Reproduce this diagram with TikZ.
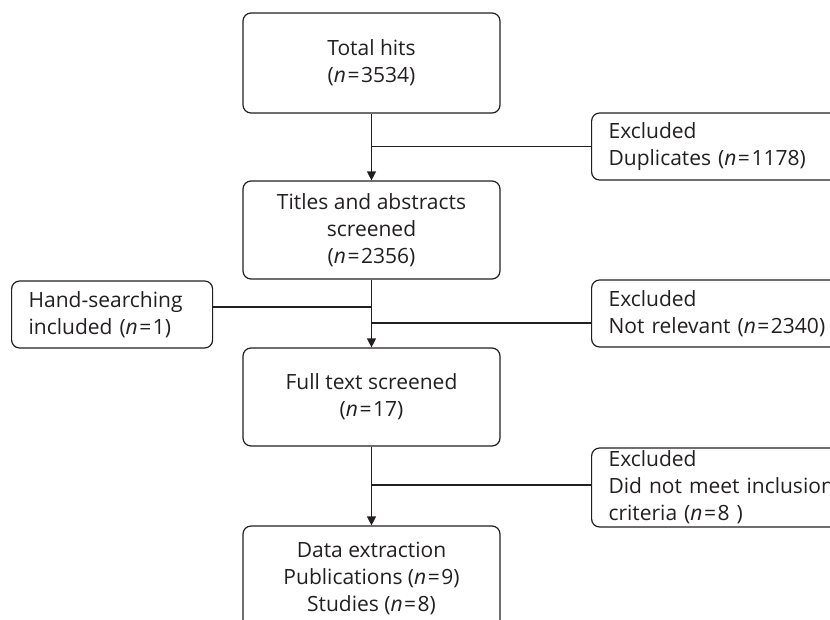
\documentclass[tikz,border=0pt]{standalone}
\usepackage{fontspec}
\setmainfont{Open Sans}
\usetikzlibrary{arrows.meta}
\definecolor{ink}{HTML}{231F20}
\newcommand{\boxfont}{\fontsize{21}{27}\selectfont}
\newcommand{\eqn}[1]{(\textit{n}\kern1.5pt=\kern1.5pt#1)}
\tikzset{
  mainbox/.style={draw=ink, line width=1.2pt, rounded corners=8pt, align=center,
    text=ink, font=\boxfont, minimum width=257pt, inner sep=0pt},
  sidebox/.style={draw=ink, line width=1.2pt, rounded corners=8pt, align=left,
    text=ink, font=\boxfont, inner xsep=17pt, inner ysep=0pt, anchor=west},
  link/.style={draw=ink, line width=1.2pt},
  arr/.style={link, -{Triangle[length=9pt,width=9pt]}},
}
\begin{document}
\begin{tikzpicture}[x=1pt, y=-1pt]
        \useasboundingbox (0,0) rectangle (830,619);
        \clip (0,0) rectangle (830,619);
        % main column
        \node[mainbox, minimum height=100pt] (total) at (371.5,63) {Total hits\\\eqn{3534}};
        \node[mainbox, minimum height=98pt] (titles) at (371.5,230) {Titles and abstracts\\screened\\\eqn{2356}};
        \node[mainbox, minimum height=98pt] (full) at (371.5,397) {Full text screened\\\eqn{17}};
        \node[mainbox, minimum height=104pt] (data) at (371.5,578) {Data extraction\\Publications \eqn{9}\\Studies \eqn{8}};
        % side boxes
        \node[sidebox, text width=250pt, minimum height=67pt] (dup) at (591,146.5) {Excluded\\Duplicates \eqn{1178}};
        \node[sidebox, text width=167pt, minimum height=67pt] (hand) at (11,314.5) {Hand-searching\\included \eqn{1}};
        \node[sidebox, text width=250pt, minimum height=67pt] (rel) at (591,313.5) {Excluded\\Not relevant \eqn{2340}};
        \node[sidebox, text width=250pt, minimum height=79pt] (crit) at (591,487.5) {Excluded\\Did not meet inclusion\\criteria \eqn{8 }};
        % lines
        \draw[arr] (total) -- (titles);
        \draw[arr] (titles) -- (full);
        \draw[arr] (full) -- (data);
        \draw[link] (dup.west) -- (dup.west -| total.south);
        \coordinate (hj) at ([yshift=7.5pt]hand.east);
        \draw[link] (hj) -- (hj -| titles.south);
        \coordinate (rj) at ([yshift=-9.5pt]rel.west);
        \draw[link] (rj) -- (rj -| titles.south);
        \coordinate (cj) at ([yshift=2.5pt]crit.west);
        \draw[link] (cj) -- (cj -| full.south);
\end{tikzpicture}
\end{document}
